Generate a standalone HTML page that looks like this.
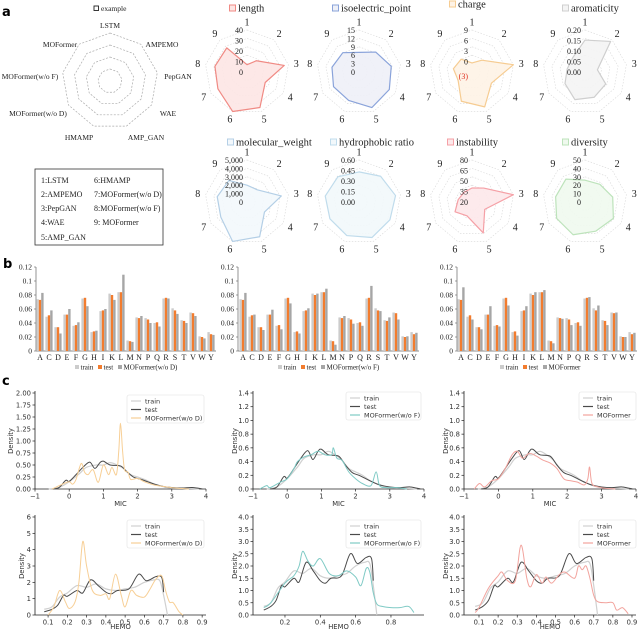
<!DOCTYPE html>
<html><head><meta charset="utf-8">
<style>
html,body{margin:0;padding:0;background:#fff;}
svg{display:block;}
.serif{font-family:"Liberation Serif",serif;}
.sans{font-family:"DejaVu Sans","Liberation Sans",sans-serif;}
</style></head>
<body>
<svg id="fig" width="640" height="630" viewBox="0 0 640 630" xmlns="http://www.w3.org/2000/svg">
<text x="2" y="16" class="sans" font-size="13" font-weight="bold">a</text>
<text x="3" y="268" class="sans" font-size="13" font-weight="bold">b</text>
<text x="2" y="385" class="sans" font-size="13" font-weight="bold">c</text>
<g id="example"></g>
<g id="legendbox">
<rect x="35" y="169" width="128" height="76" fill="none" stroke="#333" stroke-width="0.8"/>
<text class="serif" font-size="8" fill="#222" x="41" y="183">1:LSTM</text>
<text class="serif" font-size="8" fill="#222" x="41" y="197">2:AMPEMO</text>
<text class="serif" font-size="8" fill="#222" x="41" y="211">3:PepGAN</text>
<text class="serif" font-size="8" fill="#222" x="41" y="225">4:WAE</text>
<text class="serif" font-size="8" fill="#222" x="41" y="240">5:AMP_GAN</text>
<text class="serif" font-size="8" fill="#222" x="94" y="183">6:HMAMP</text>
<text class="serif" font-size="8" fill="#222" x="94" y="197">7:MOFormer(w/o D)</text>
<text class="serif" font-size="8" fill="#222" x="94" y="211">8:MOFormer(w/o F)</text>
<text class="serif" font-size="8" fill="#222" x="94" y="225">9: MOFormer</text>
</g>
<g id="radars"></g>
<g id="bars"></g>
<g id="dens"></g>
</svg>
<script>
// ---------- Radar data ----------
const radarTitles = ["length","isoelectric_point","charge","aromaticity","molecular_weight","hydrophobic ratio","instability","diversity"];
const lengthVals = [7,14,36,20,36,40,32,31,30];
const isoVals = [7,9.3,11.7,12.5,13.5,10.8,10.5,9.8,9];
const chargeVals = [-0.4,1.4,9,3.4,7.6,5.9,1.6,2.4,1.8];
const aromVals = [0.152,0.19,0.06,0.114,0.128,0.14,0.11,0.086,0.09];
const mwVals = [2000,1900,4150,2400,4400,5000,3600,3600,3350];
const hydroVals = [0.43,0.48,0.53,0.51,0.54,0.51,0.48,0.49,0.47];
const instabVals = [40,46,80,41,67,41,48,40,38];
const divVals = [26,27.5,33.5,39,37,41.5,39,35.5,35.5];
const lengthTicks = ["0","10","20","30","40"];
const isoTicks = ["0","3","6","9","12","15"];
const chargeTicks = ["0","3","6","9"];
const aromTicks = ["0.00","0.05","0.10","0.15","0.20"];
const mwTicks = ["0","1,000","2,000","3,000","4,000","5,000"];
const hydroTicks = ["0.00","0.15","0.30","0.45","0.60"];
const instabTicks = ["20","35","50","65","80"];
const divTicks = ["0","10","20","30","40","50"];
const exampleModels = ["LSTM","AMPEMO","PepGAN","WAE","AMP_GAN","HMAMP","MOFormer(w/o D)","MOFormer(w/o F)","MOFormer"];

// ---------- Bar data ----------
const aminoAcids = ["A","C","D","E","F","G","H","I","K","L","M","N","P","Q","R","S","T","V","W","Y"];
const trainFreq = [.074,.049,.034,.052,.036,.075,.027,.057,.082,.084,.015,.048,.047,.040,.075,.061,.044,.055,.021,.027];
const testFreq = [.073,.051,.034,.052,.037,.076,.028,.058,.080,.084,.014,.047,.045,.041,.076,.058,.043,.054,.020,.024];
const genWoDFreq = [.083,.058,.025,.060,.041,.064,.029,.060,.073,.109,.013,.050,.040,.035,.075,.053,.040,.050,.018,.023];
const genWoFFreq = [.083,.052,.030,.059,.031,.068,.025,.061,.082,.089,.009,.050,.039,.036,.093,.057,.048,.045,.021,.026];
const genMOFreq = [.091,.045,.031,.064,.035,.065,.022,.064,.084,.087,.011,.046,.037,.036,.077,.065,.037,.055,.020,.026];
const barTicks = [0,0.02,0.04,0.06,0.08,0.1,0.12];

// ---------- Density data ----------
const micTrainX = [-0.6,-0.3,0,0.3,0.5,0.8,1,1.2,1.4,1.6,1.8,2,2.2,2.4,2.6,2.8,3,3.5,3.8];
const micTrainY = [0,0.03,0.15,0.32,0.45,0.5,0.5,0.55,0.5,0.42,0.3,0.25,0.2,0.13,0.08,0.04,0.02,0.01,0];
const micTestX = [-0.5,-0.3,-0.1,0,0.2,0.4,0.6,0.75,0.9,1,1.2,1.5,1.7,1.9,2.1,2.3,2.5,2.7,3,3.3,3.6,3.9];
const micTestY = [0,0.03,0.18,0.16,0.3,0.45,0.56,0.43,0.55,0.58,0.5,0.48,0.35,0.24,0.2,0.15,0.1,0.06,0.03,0.02,0.03,0];
const micWoDX = [-0.5,-0.2,0,0.1,0.2,0.35,0.45,0.55,0.7,0.85,1,1.15,1.25,1.38,1.45,1.5,1.56,1.62,1.72,1.8,2,2.2,2.5,2.8,3.1,3.5];
const micWoDY = [0,0.1,0.15,0.1,0.2,0.53,0.35,0.3,0.4,0.14,0.5,0.3,0.45,0.3,0.8,1.37,0.8,0.4,0.35,0.2,0.22,0.15,0.08,0.05,0.02,0];
const micWoFX = [-0.8,-0.6,-0.5,-0.2,0,0.2,0.3,0.5,0.7,0.9,1.1,1.3,1.35,1.45,1.6,1.8,2,2.2,2.45,2.6,2.7,2.9,3.2,3.5];
const micWoFY = [0,0.05,0.02,0.1,0.15,0.3,0.4,0.47,0.5,0.55,0.5,0.5,0.6,0.45,0.42,0.25,0.15,0.08,0.05,0.25,0.05,0.02,0.02,0];
const micMOX = [-0.7,-0.55,-0.4,-0.2,0,0.2,0.4,0.55,0.7,0.9,1.1,1.3,1.5,1.7,1.9,2.1,2.3,2.5,2.6,2.65,2.72,2.9,3.1,3.4];
const micMOY = [0,0.08,0.03,0.12,0.15,0.3,0.5,0.55,0.45,0.52,0.48,0.42,0.38,0.3,0.15,0.12,0.1,0.06,0.15,0.32,0.08,0.03,0.01,0];
const hemoTrainX = [0.08,0.12,0.16,0.2,0.25,0.3,0.35,0.4,0.45,0.5,0.55,0.6,0.65,0.68,0.7,0.72];
const hemoTrainY = [0.35,0.5,1.1,1.35,1.8,1.7,1.9,1.6,1.5,1.6,1.7,2.0,2.15,2.1,1.2,0];
const hemoTestX = [0.08,0.12,0.15,0.18,0.2,0.25,0.28,0.32,0.36,0.4,0.43,0.46,0.52,0.57,0.61,0.66,0.69,0.7];
const hemoTestY = [0.2,0.35,0.6,1.2,1.15,1.5,1.35,2.15,1.8,1.4,1.3,1.5,1.6,2.5,2.1,2.35,2.3,1.4];
const hemoWoDX = [0.1,0.13,0.16,0.19,0.21,0.24,0.26,0.28,0.3,0.33,0.37,0.4,0.42,0.45,0.48,0.5,0.53,0.56,0.6,0.63,0.66,0.69,0.71,0.73,0.75,0.78,0.8];
const hemoWoDY = [0,0.5,1.5,0.8,0.4,0.8,2,4.5,3,1.5,1.2,1.3,1,2.5,1.2,0.5,1.5,1.2,1.1,1.6,2.2,2.4,1.5,0.8,0.75,0.2,0];
const hemoWoFX = [0.08,0.12,0.2,0.25,0.28,0.3,0.33,0.36,0.4,0.45,0.5,0.55,0.6,0.63,0.66,0.68,0.7,0.72,0.75,0.8,0.85,0.9,0.93];
const hemoWoFY = [0.3,0.5,1.3,1.6,2.0,2.6,2.2,2.0,2.3,1.7,1.6,1.8,1.55,1.2,1.9,1.75,0.9,0.45,0.35,0.3,0.3,0.35,0.1];
const hemoMOX = [0.08,0.1,0.15,0.2,0.22,0.25,0.29,0.32,0.35,0.37,0.4,0.43,0.45,0.48,0.52,0.55,0.6,0.62,0.64,0.66,0.68,0.7,0.72,0.76,0.8,0.82,0.85,0.88];
const hemoMOY = [0.1,0.3,1.1,1.6,1.75,1.4,1.4,2.85,1.5,1.15,1.65,1.3,1.55,1.3,1.65,1.75,1.5,2.0,1.85,2.0,1.5,0.8,0.55,0.5,0.5,0.2,0.3,0.05];

const NS = "http://www.w3.org/2000/svg";
function mk(tag, attrs, parent){
  const e = document.createElementNS(NS, tag);
  for (const k in attrs) e.setAttribute(k, attrs[k]);
  parent.appendChild(e);
  return e;
}
function txt(str, attrs, parent){ const e = mk("text", attrs, parent); e.textContent = str; return e; }
const SERIF = '"Liberation Serif", serif';
const SANS = '"DejaVu Sans", "Liberation Sans", sans-serif';
function polyPts(cx, cy, rs){
  return rs.map((r,i)=>{const a=(-90+i*40)*Math.PI/180; return (cx+r*Math.cos(a)).toFixed(2)+","+(cy+r*Math.sin(a)).toFixed(2);}).join(" ");
}

// ---------- Example radar ----------
(function(){
  const g = document.getElementById("example");
  const cx=110, cy=81;
  [48,36,24,12].forEach(r=>{
    const p = mk("polygon",{points:polyPts(cx,cy,Array(9).fill(r)),fill:"none",stroke:"#aaa","stroke-width":0.7,"stroke-dasharray":"2,1.5"},g);
    
    
  });
  const pos = [[110,28],[162,47],[178,79],[168,116],[146,140],[79,140],[38,116],[30,79],[60,47]];
  exampleModels.forEach((m,i)=>{
    const t = txt(m,{x:pos[i][0],y:pos[i][1],"text-anchor":"middle","font-family":SERIF,"font-size":7.5,fill:"#222"},g);
    
    
  });
  const sq = mk("rect",{x:94,y:6,width:4.5,height:4.5,fill:"none",stroke:"#222","stroke-width":0.9},g);
  
  
  const et = txt("example",{x:101,y:11,"font-family":SERIF,"font-size":7.5,fill:"#222"},g);
  
  
})();

// ---------- Small radars ----------
(function(){
  const g = document.getElementById("radars");
  const R = 42;
  const cfg = [
    {vals:lengthVals,ticks:lengthTicks,tv:[0,10,20,30,40],min:0,max:40,stroke:"#f08a84",fill:"#fde6e4",cx:247,cy:72,tx:232,ty:8},
    {vals:isoVals,ticks:isoTicks,tv:[0,3,6,9,12,15],min:0,max:15,stroke:"#8aa3da",fill:"#eef0f7",cx:359,cy:72,tx:335,ty:8},
    {vals:chargeVals,ticks:chargeTicks,tv:[0,3,6,9],min:-3,max:9,stroke:"#f6cc92",fill:"#fef3e6",cx:472,cy:72,tx:452,ty:4},
    {vals:aromVals,ticks:aromTicks,tv:[0,0.05,0.1,0.15,0.2],min:0,max:0.2,stroke:"#cfcfcf",fill:"#f4f4f4",cx:585,cy:72,tx:565,ty:8},
    {vals:mwVals,ticks:mwTicks,tv:[0,1000,2000,3000,4000,5000],min:0,max:5000,stroke:"#b4cfe6",fill:"#f3f8fc",cx:247,cy:202,tx:230,ty:142},
    {vals:hydroVals,ticks:hydroTicks,tv:[0,0.15,0.3,0.45,0.6],min:0,max:0.6,stroke:"#c0dcec",fill:"#f2f8fb",cx:359,cy:202,tx:333,ty:142},
    {vals:instabVals,ticks:instabTicks,tv:[20,35,50,65,80],min:20,max:80,stroke:"#f5a0a6",fill:"#fde8ea",cx:472,cy:202,tx:450,ty:142},
    {vals:divVals,ticks:divTicks,tv:[0,10,20,30,40,50],min:0,max:50,stroke:"#bde3bb",fill:"#eff9ee",cx:585,cy:202,tx:565,ty:142}
  ];
  cfg.forEach((c,k)=>{
    const sub = mk("g",{},g);
    
    
    [0.2,0.4,0.6,0.8,1.0].forEach(f=>{
      const p = mk("polygon",{points:polyPts(c.cx,c.cy,Array(9).fill(R*f)),fill:"none",stroke:"#d8d8d8","stroke-width":0.6,"stroke-dasharray":"1.5,1.5"},sub);
      
      
    });
    const rs = c.vals.map(v=>Math.max(0,(v-c.min)/(c.max-c.min))*R);
    const poly = mk("polygon",{points:polyPts(c.cx,c.cy,rs),fill:c.fill,"fill-opacity":0.9,stroke:c.stroke,"stroke-width":1.2,"stroke-linejoin":"round"},sub);
    
    
    c.ticks.forEach((t,i)=>{
      const r = (c.tv[i]-c.min)/(c.max-c.min)*R;
      const e = txt(t,{x:c.cx-4,y:c.cy-r+3,"text-anchor":"end","font-family":SERIF,"font-size":8,fill:"#222"},sub);
      
      
    });
    if (k===2){
      const e = txt("(3)",{x:c.cx-4,y:c.cy+7,"text-anchor":"end","font-family":SERIF,"font-size":8,fill:"#e03020"},sub);
      
      
    }
    for (let i=0;i<9;i++){
      const a=(-90+i*40)*Math.PI/180;
      const e = txt(String(i+1),{x:c.cx+50*Math.cos(a),y:c.cy+50*Math.sin(a)+3.5,"text-anchor":"middle","font-family":SERIF,"font-size":10,fill:"#222"},sub);
      
      
    }
    const sq = mk("rect",{x:c.tx-2.5,y:c.ty-3,width:6,height:6,fill:c.fill,stroke:c.stroke,"stroke-width":1},sub);
    
    
    const tt = txt(radarTitles[k],{x:c.tx+6,y:c.ty+3.5,"font-family":SERIF,"font-size":10.5,fill:"#222"},sub);
    
    
  });
})();

// ---------- Bar charts ----------
(function(){
  const g = document.getElementById("bars");
  const charts = [
    {ax:36,first:40,gen:genWoDFreq,name:"MOFormer(w/o D)",lx:75},
    {ax:238,first:243,gen:genWoFFreq,name:"MOFormer(w/o F)",lx:278},
    {ax:457,first:461,gen:genMOFreq,name:"MOFormer",lx:500}
  ];
  const y0=351, yTop=267, step=9;
  const yS = v => y0 - v/0.12*(y0-yTop);
  charts.forEach((c,ci)=>{
    const sub = mk("g",{},g);
    
    
    const xS = i => c.first + i*step;
    const yl = mk("line",{x1:c.ax,y1:y0,x2:c.ax,y2:yTop,stroke:"#666","stroke-width":0.7},sub);
    
    
    const xl = mk("line",{x1:c.ax,y1:y0,x2:xS(19)+5,y2:y0,stroke:"#666","stroke-width":0.7},sub);
    
    
    barTicks.forEach(t=>{
      const tk = mk("line",{x1:c.ax-2,y1:yS(t),x2:c.ax,y2:yS(t),stroke:"#666","stroke-width":0.6},sub);
      
      
      const e = txt(t===0?"0":String(t),{x:c.ax-4,y:yS(t)+2.5,"text-anchor":"end","font-family":SERIF,"font-size":7.5,fill:"#222"},sub);
      
      
    });
    aminoAcids.forEach((aa,i)=>{
      const cx = xS(i);
      const series = [[trainFreq[i],"#cccccc",-3.6],[testFreq[i],"#f27c2e",-1.2],[c.gen[i],"#a6a6a6",1.2]];
      series.forEach(s=>{
        const b = mk("rect",{x:cx+s[2],y:yS(s[0]),width:2.4,height:y0-yS(s[0]),fill:s[1]},sub);
        
        
      });
      const l = txt(aa,{x:cx,y:y0+9,"text-anchor":"middle","font-family":SERIF,"font-size":8,fill:"#222"},sub);
      
      
    });
    const leg = [["train","#cccccc",0],["test","#f27c2e",23],[c.name,"#a6a6a6",43]];
    leg.forEach(L=>{
      const r = mk("rect",{x:c.lx+L[2],y:365,width:4,height:4,fill:L[1]},sub);
      
      
      const t = txt(L[0],{x:c.lx+L[2]+5.5,y:369.5,"font-family":SERIF,"font-size":7,fill:"#222"},sub);
      
      
    });
  });
})();

// ---------- Density charts ----------
(function(){
  const g = document.getElementById("dens");
  const TR="#d0d0d0", TE="#4a4a4a";
  const plots = [
    {x0:35,x1:206,y0:489,yt:393,d0:-1,d1:4,ymax:2.0,yticks:[0,.25,.5,.75,1,1.25,1.5,1.75,2],yd:2,xticks:[-1,0,1,2,3,4],xd:0,xl:"MIC",xly:17,dl:22,gx:micWoDX,gy:micWoDY,gc:"#f7cf96",gn:"MOFormer(w/o D)",lx:127,lw:77,ly:395,tx:micTrainX,ty:micTrainY,sx:micTestX,sy:micTestY},
    {x0:253,x1:424,y0:489,yt:393,d0:-1,d1:4,ymax:1.4,yticks:[0,.2,.4,.6,.8,1,1.2,1.4],yd:1,xticks:[-1,0,1,2,3,4],xd:0,xl:"MIC",xly:17,dl:16,gx:micWoFX,gy:micWoFY,gc:"#7fcac5",gn:"MOFormer(w/o F)",lx:346,lw:75,ly:392,tx:micTrainX,ty:micTrainY,sx:micTestX,sy:micTestY},
    {x0:464,x1:636,y0:489,yt:393,d0:-1,d1:4,ymax:1.4,yticks:[0,.2,.4,.6,.8,1,1.2,1.4],yd:1,xticks:[-1,0,1,2,3,4],xd:0,xl:"MIC",xly:17,dl:16,gx:micMOX,gy:micMOY,gc:"#f2a39d",gn:"MOFormer",lx:579,lw:57,ly:392,tx:micTrainX,ty:micTrainY,sx:micTestX,sy:micTestY},
    {x0:35,x1:206,y0:615,yt:517,d0:0.032,d1:0.92,ymax:6,yticks:[0,1,2,3,4,5,6],yd:0,xticks:[.1,.2,.3,.4,.5,.6,.7,.8,.9],xd:1,xl:"HEMO",xly:14,dl:11,gx:hemoWoDX,gy:hemoWoDY,gc:"#f7cf96",gn:"MOFormer(w/o D)",lx:127,lw:77,ly:520,tx:hemoTrainX,ty:hemoTrainY,sx:hemoTestX,sy:hemoTestY},
    {x0:253,x1:424,y0:615,yt:517,d0:0.019,d1:0.987,ymax:4,yticks:[0,.5,1,1.5,2,2.5,3,3.5,4],yd:1,xticks:[.2,.4,.6,.8],xd:1,xl:"HEMO",xly:14,dl:16,gx:hemoWoFX,gy:hemoWoFY,gc:"#7fcac5",gn:"MOFormer(w/o F)",lx:346,lw:75,ly:520,tx:hemoTrainX,ty:hemoTrainY,sx:hemoTestX,sy:hemoTestY},
    {x0:464,x1:636,y0:615,yt:517,d0:0.0216,d1:0.921,ymax:4,yticks:[0,.5,1,1.5,2,2.5,3,3.5,4],yd:1,xticks:[.1,.2,.3,.4,.5,.6,.7,.8,.9],xd:1,xl:"HEMO",xly:14,dl:16,gx:hemoMOX,gy:hemoMOY,gc:"#f2a39d",gn:"MOFormer",lx:579,lw:57,ly:520,tx:hemoTrainX,ty:hemoTrainY,sx:hemoTestX,sy:hemoTestY}
  ];
  function smoothPath(xs, ys, xS, yS){
    const p = xs.map((x,i)=>[xS(x),yS(ys[i])]);
    let d = "M"+p[0][0].toFixed(2)+","+p[0][1].toFixed(2);
    for (let i=0;i<p.length-1;i++){
      const a=p[Math.max(0,i-1)], b=p[i], c=p[i+1], e=p[Math.min(p.length-1,i+2)];
      const c1=[b[0]+(c[0]-a[0])/6, b[1]+(c[1]-a[1])/6];
      const c2=[c[0]-(e[0]-b[0])/6, c[1]-(e[1]-b[1])/6];
      d += " C"+c1[0].toFixed(2)+","+c1[1].toFixed(2)+" "+c2[0].toFixed(2)+","+c2[1].toFixed(2)+" "+c[0].toFixed(2)+","+c[1].toFixed(2);
    }
    return d;
  }
  plots.forEach((P,pi)=>{
    const sub = mk("g",{},g);
    
    
    const xS = v => P.x0 + (v-P.d0)/(P.d1-P.d0)*(P.x1-P.x0);
    const yS = v => P.y0 - v/P.ymax*(P.y0-P.yt);
    const ya = mk("line",{x1:P.x0,y1:P.y0,x2:P.x0,y2:P.yt-2,stroke:"#222","stroke-width":0.8},sub);
    
    
    const xa = mk("line",{x1:P.x0,y1:P.y0,x2:P.x1,y2:P.y0,stroke:"#222","stroke-width":0.8},sub);
    
    
    P.yticks.forEach(t=>{
      const tk = mk("line",{x1:P.x0-2.5,y1:yS(t),x2:P.x0,y2:yS(t),stroke:"#222","stroke-width":0.7},sub);
      
      
      const e = txt(t.toFixed(P.yd),{x:P.x0-4,y:yS(t)+2.5,"text-anchor":"end","font-family":SANS,"font-size":6.8,fill:"#333"},sub);
      
      
    });
    P.xticks.forEach(t=>{
      const tk = mk("line",{x1:xS(t),y1:P.y0,x2:xS(t),y2:P.y0+2.5,stroke:"#222","stroke-width":0.7},sub);
      
      
      const lab = (t<0?"\u22121":t.toFixed(P.xd));
      const e = txt(lab,{x:xS(t),y:P.y0+9.5,"text-anchor":"middle","font-family":SANS,"font-size":6.8,fill:"#333"},sub);
      
      
    });
    const xt = txt(P.xl,{x:(P.x0+P.x1)/2,y:P.y0+P.xly,"text-anchor":"middle","font-family":SANS,"font-size":6.8,fill:"#333"},sub);
    
    
    const ymid=(P.y0+P.yt)/2;
    const yt = txt("Density",{x:P.x0-P.dl,y:ymid,"text-anchor":"middle","font-family":SANS,"font-size":6.8,fill:"#333",transform:"rotate(-90 "+(P.x0-P.dl)+" "+ymid+")"},sub);
    
    
    const l1 = mk("path",{d:smoothPath(P.tx,P.ty,xS,yS),fill:"none",stroke:TR,"stroke-width":1.2},sub);
    
    
    const l2 = mk("path",{d:smoothPath(P.sx,P.sy,xS,yS),fill:"none",stroke:TE,"stroke-width":1},sub);
    
    
    const l3 = mk("path",{d:smoothPath(P.gx,P.gy,xS,yS),fill:"none",stroke:P.gc,"stroke-width":1},sub);
    
    
    const lb = mk("rect",{x:P.lx,y:P.ly,width:P.lw,height:28,rx:2,fill:"#fff","fill-opacity":0.8,stroke:"#e0e0e0","stroke-width":0.6},sub);
    
    
    [["train",TR],["test",TE],[P.gn,P.gc]].forEach((L,i)=>{
      const yy = P.ly+6+i*8.5;
      const ln = mk("line",{x1:P.lx+4,y1:yy,x2:P.lx+14,y2:yy,stroke:L[1],"stroke-width":1.2},sub);
      
      
      const tt = txt(L[0],{x:P.lx+18,y:yy+2.3,"font-family":SANS,"font-size":6.5,fill:"#333"},sub);
      
      
    });
  });
})();
</script>
</body></html>
